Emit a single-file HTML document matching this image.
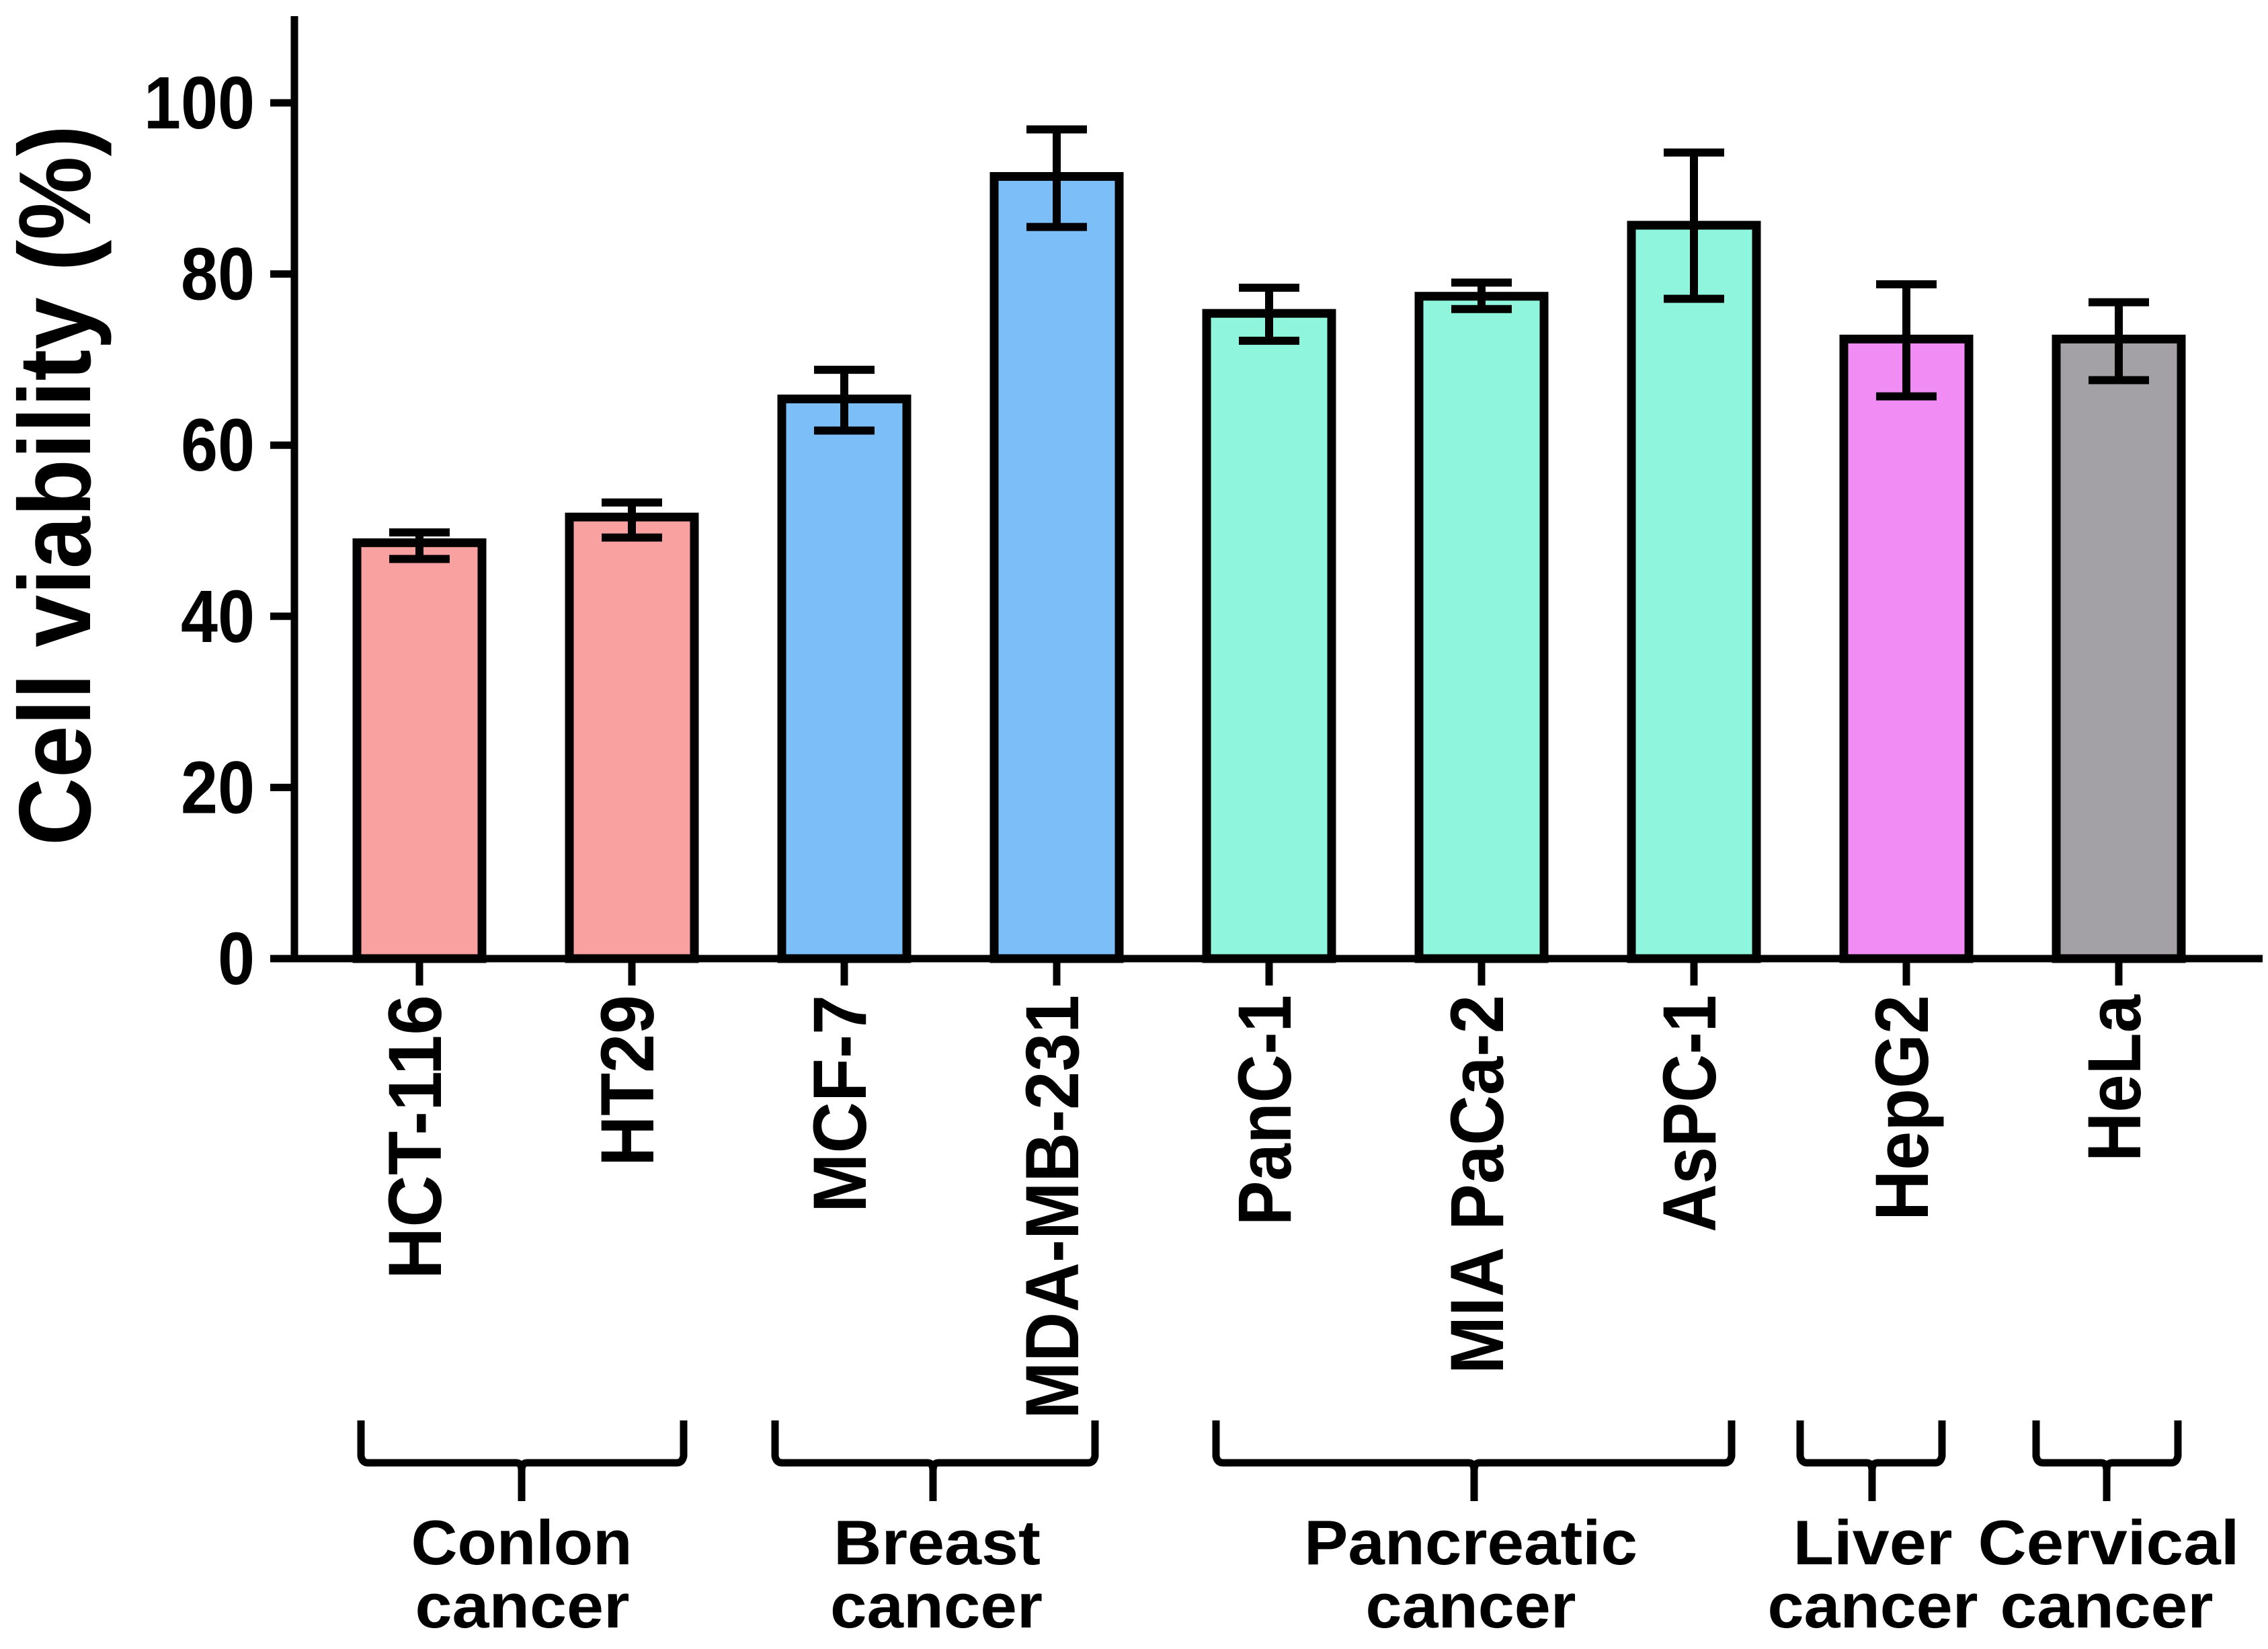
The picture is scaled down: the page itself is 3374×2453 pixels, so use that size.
<!DOCTYPE html>
<html><head><meta charset="utf-8"><style>
html,body{margin:0;padding:0;background:#fff;}
svg{display:block;font-family:"Liberation Sans",Arial,sans-serif;font-weight:bold;}
</style></head><body>
<svg id="chart" width="3374" height="2453" viewBox="0 0 3374 2453" xmlns="http://www.w3.org/2000/svg">
<rect width="3374" height="2453" fill="#ffffff"/>
<g id="g"></g>
</svg>
<script>
const categories = ["HCT-116","HT29","MCF-7","MDA-MB-231","PanC-1","MIA PaCa-2","AsPC-1","HepG2","HeLa"];
const values = [48.6, 51.6, 65.4, 91.4, 75.4, 77.4, 85.7, 72.4, 72.4];
const errHigh = [49.8, 53.3, 68.8, 96.9, 78.4, 79.0, 94.2, 78.8, 76.7];
const errLow = [46.7, 49.2, 61.7, 85.5, 72.2, 75.9, 77.1, 65.7, 67.6];
const barColors = ["#F9A0A0","#F9A0A0","#7BBEF8","#7BBEF8","#8FF5DC","#8FF5DC","#8FF5DC","#F28CF5","#A3A1A5"];
const yTicks = [0,20,40,60,80,100];
const labelLens = [423,255,324,631,343,564,353,336,248];
const groupNames = ["conlon","breast","pancreatic","liver","cervical"];
const groupLine1 = ["Conlon","Breast","Pancreatic","Liver","Cervical"];
const groupLine2 = ["cancer","cancer","cancer","cancer","cancer"];

const NS="http://www.w3.org/2000/svg";
const g=document.getElementById('g');
function mk(tag,attrs,parent){const e=document.createElementNS(NS,tag);for(const k in attrs)e.setAttribute(k,attrs[k]);(parent||g).appendChild(e);return e;}
const y0=1426, pxPerUnit=12.73;
function yS(v){return y0 - v*pxPerUnit;}
const x0=624, step=316;
function xS(i){return x0 + i*step;}
const barW=186;

categories.forEach((c,i)=>{
  const r=mk('rect',{x:xS(i)-barW/2,y:yS(values[i]),width:barW,height:y0-yS(values[i]),fill:barColors[i],stroke:'#000','stroke-width':13});
  
  
  const e=mk('path',{d:`M${xS(i)} ${yS(errHigh[i])}V${yS(errLow[i])}M${xS(i)-45} ${yS(errHigh[i])}H${xS(i)+45}M${xS(i)-45} ${yS(errLow[i])}H${xS(i)+45}`,stroke:'#000','stroke-width':12,fill:'none'});
  
  
});

const ya=mk('line',{x1:438,y1:24,x2:438,y2:y0+5,stroke:'#000','stroke-width':11});


const xa=mk('line',{x1:433,y1:y0,x2:3366,y2:y0,stroke:'#000','stroke-width':11});



yTicks.forEach(v=>{
  const t=mk('line',{x1:402,y1:yS(v),x2:438,y2:yS(v),stroke:'#000','stroke-width':11});
  
  
  const s=String(v);
  const tx=mk('text',{x:379,y:yS(v)+38,'text-anchor':'end','font-size':110,textLength:s.length*55,lengthAdjust:'spacingAndGlyphs'});
  tx.textContent=s;
  
  
});

const title=mk('text',{transform:'translate(134,722) rotate(-90)','text-anchor':'middle','font-size':152,textLength:1072,lengthAdjust:'spacingAndGlyphs'});
title.textContent='Cell viability (%)';



categories.forEach((c,i)=>{
  const t=mk('line',{x1:xS(i),y1:y0,x2:xS(i),y2:y0+40,stroke:'#000','stroke-width':11});
  
  
  const tx=mk('text',{transform:`translate(${xS(i)+32},1480) rotate(-90)`,'text-anchor':'end','font-size':112,textLength:labelLens[i],lengthAdjust:'spacingAndGlyphs'});
  tx.textContent=c;
  
  
});

const brL=[537,1153,1809,2678,3029], brR=[1017,1629,2576,2889,3240], brC=[776,1388,2193,2785,3134];
groupNames.forEach((n,k)=>{
  const l=brL[k], r=brR[k], cx=brC[k];
  const p=mk('path',{d:`M${l} 2113V2166Q${l+2} 2176 ${l+10} 2176H${cx-8}Q${cx} 2176 ${cx} 2188V2233M${cx} 2188Q${cx} 2176 ${cx+8} 2176H${r-10}Q${r-2} 2176 ${r} 2166V2113`,stroke:'#000','stroke-width':11,fill:'none'});
  
  
});
const g1W=[329,308,496,237,389], g2W=[319,316,313,313,317];
const g1C=[776,1394,2188,2786,3137], g2C=[777,1393,2188,2786,3134];
groupNames.forEach((n,k)=>{
  const a=mk('text',{x:g1C[k],y:2327,'text-anchor':'middle','font-size':94,textLength:g1W[k],lengthAdjust:'spacingAndGlyphs'});
  a.textContent=groupLine1[k];
  
  
  const b=mk('text',{x:g2C[k],y:2421,'text-anchor':'middle','font-size':94,textLength:g2W[k],lengthAdjust:'spacingAndGlyphs'});
  b.textContent=groupLine2[k];
  
  
});
</script>
</body></html>
